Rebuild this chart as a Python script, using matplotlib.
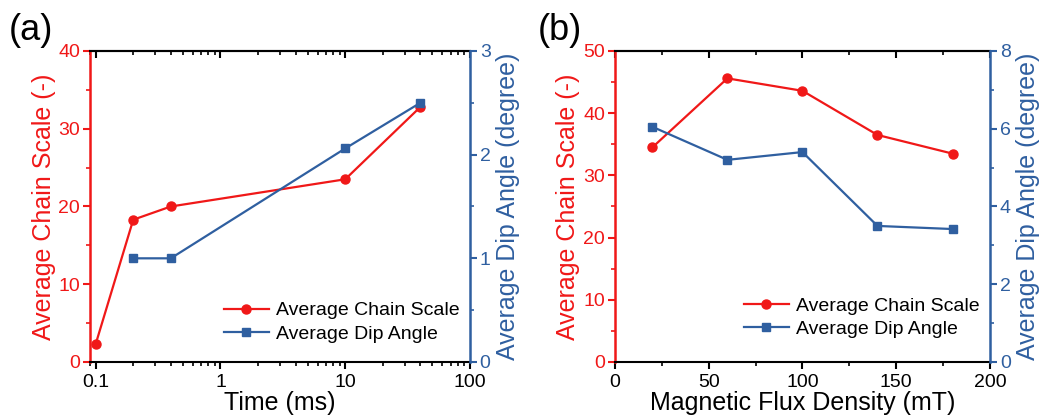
import matplotlib
matplotlib.use('Agg')
import matplotlib.pyplot as plt
from matplotlib.ticker import MultipleLocator, LogLocator, NullFormatter

plt.rcParams['font.family'] = ['Liberation Sans', 'DejaVu Sans']

RED = '#f01818'
BLUE = '#2f5fa0'

# panel (a)
time_ms = [0.1, 0.2, 0.4, 10, 40]
chain_scale_a = [2.3, 18.3, 20.0, 23.5, 32.8]
time_ms_dip = [0.2, 0.4, 10, 40]
dip_angle_a = [1.0, 1.0, 2.06, 2.5]

# panel (b)
flux_mT = [20, 60, 100, 140, 180]
chain_scale_b = [34.5, 45.6, 43.6, 36.5, 33.5]
dip_angle_b = [6.05, 5.2, 5.4, 3.5, 3.42]


def style_axes(ax, ax2, ylabel_l, ylabel_r):
    ax.spines['left'].set_color(RED)
    ax.spines['left'].set_linewidth(1.8)
    ax.spines['right'].set_visible(False)
    ax.spines['top'].set_linewidth(1.5)
    ax.spines['bottom'].set_linewidth(1.5)
    ax2.spines['right'].set_color(BLUE)
    ax2.spines['right'].set_linewidth(1.8)
    ax2.spines['left'].set_visible(False)
    ax2.spines['top'].set_visible(False)
    ax2.spines['bottom'].set_visible(False)
    ax.tick_params(axis='x', which='major', direction='out', length=5, width=1.5,
                   labelsize=14, pad=4)
    ax.tick_params(axis='x', which='minor', direction='out', length=3, width=1.2)
    ax.tick_params(axis='y', which='major', direction='out', length=5, width=1.5,
                   colors=RED, labelsize=14, pad=2)
    ax.tick_params(axis='y', which='minor', direction='out', length=3, width=1.2, colors=RED)
    ax2.tick_params(axis='y', which='major', direction='out', length=5, width=1.5,
                    colors=BLUE, labelsize=14, pad=2)
    ax2.tick_params(axis='y', which='minor', direction='out', length=3, width=1.2, colors=BLUE)
    ax.set_ylabel(ylabel_l, color=RED, fontsize=18, labelpad=2)
    ax2.set_ylabel(ylabel_r, color=BLUE, fontsize=18, labelpad=4)


fig = plt.figure(figsize=(10.51, 4.18), dpi=100)

# ---- (a)
ax = fig.add_axes([0.0856, 0.134, 0.3616, 0.744])
ax2 = ax.twinx()
l1, = ax.plot(time_ms, chain_scale_a, color=RED, marker='o', markersize=6.5, linewidth=1.6,
              label='Average Chain Scale')
l2, = ax2.plot(time_ms_dip, dip_angle_a, color=BLUE, marker='s', markersize=5.5, linewidth=1.6,
               label='Average Dip Angle')
ax.set_xscale('log')
ax.set_xlim(0.09, 100)
ax.set_ylim(0, 40)
ax2.set_ylim(0, 3)
ax.set_xticks([0.1, 1, 10, 100])
ax.set_xticklabels(['0.1', '1', '10', '100'])
ax.xaxis.set_minor_locator(LogLocator(base=10, subs=range(2, 10), numticks=20))
ax.xaxis.set_minor_formatter(NullFormatter())
ax.yaxis.set_major_locator(MultipleLocator(10))
ax.yaxis.set_minor_locator(MultipleLocator(5))
ax2.yaxis.set_major_locator(MultipleLocator(1))
ax2.yaxis.set_minor_locator(MultipleLocator(0.5))
style_axes(ax, ax2, 'Average Chain Scale (-)', 'Average Dip Angle (degree)')
ax.set_xlabel('Time (ms)', fontsize=18, labelpad=0)
top = ax.secondary_xaxis('top')
top.set_xticks([0.1, 1, 10, 100])
top.xaxis.set_minor_locator(LogLocator(base=10, subs=range(2, 10), numticks=20))
top.tick_params(which='major', direction='in', length=5, width=1.5, labeltop=False)
top.tick_params(which='minor', direction='in', length=3, width=1.2)
top.xaxis.set_minor_formatter(NullFormatter())
top.spines['top'].set_linewidth(1.5)
ax.legend([l1, l2], ['Average Chain Scale', 'Average Dip Angle'], loc='lower right',
          frameon=False, fontsize=14, handlelength=2.3, handletextpad=0.4,
          labelspacing=0.3, bbox_to_anchor=(1.02, 0.005))
fig.text(0.008, 0.97, '(a)', fontsize=26, va='top', ha='left')

# ---- (b)
bx = fig.add_axes([0.585, 0.134, 0.357, 0.744])
bx2 = bx.twinx()
m1, = bx.plot(flux_mT, chain_scale_b, color=RED, marker='o', markersize=6.5, linewidth=1.6,
              label='Average Chain Scale')
m2, = bx2.plot(flux_mT, dip_angle_b, color=BLUE, marker='s', markersize=5.5, linewidth=1.6,
               label='Average Dip Angle')
bx.set_xlim(0, 200)
bx.set_ylim(0, 50)
bx2.set_ylim(0, 8)
bx.xaxis.set_major_locator(MultipleLocator(50))
bx.xaxis.set_minor_locator(MultipleLocator(25))
bx.yaxis.set_major_locator(MultipleLocator(10))
bx.yaxis.set_minor_locator(MultipleLocator(5))
bx2.yaxis.set_major_locator(MultipleLocator(2))
bx2.yaxis.set_minor_locator(MultipleLocator(1))
style_axes(bx, bx2, 'Average Chain Scale (-)', 'Average Dip Angle (degree)')
bx.set_xlabel('Magnetic Flux Density (mT)', fontsize=18, labelpad=0)
btop = bx.secondary_xaxis('top')
btop.xaxis.set_major_locator(MultipleLocator(50))
btop.xaxis.set_minor_locator(MultipleLocator(25))
btop.tick_params(which='major', direction='in', length=5, width=1.5, labeltop=False)
btop.tick_params(which='minor', direction='in', length=3, width=1.2)
btop.spines['top'].set_linewidth(1.5)
bx.legend([m1, m2], ['Average Chain Scale', 'Average Dip Angle'], loc='lower right',
          frameon=False, fontsize=14, handlelength=2.3, handletextpad=0.4,
          labelspacing=0.3, bbox_to_anchor=(1.02, 0.02))
fig.text(0.512, 0.97, '(b)', fontsize=26, va='top', ha='left')

fig.savefig('out.png', dpi=100)
